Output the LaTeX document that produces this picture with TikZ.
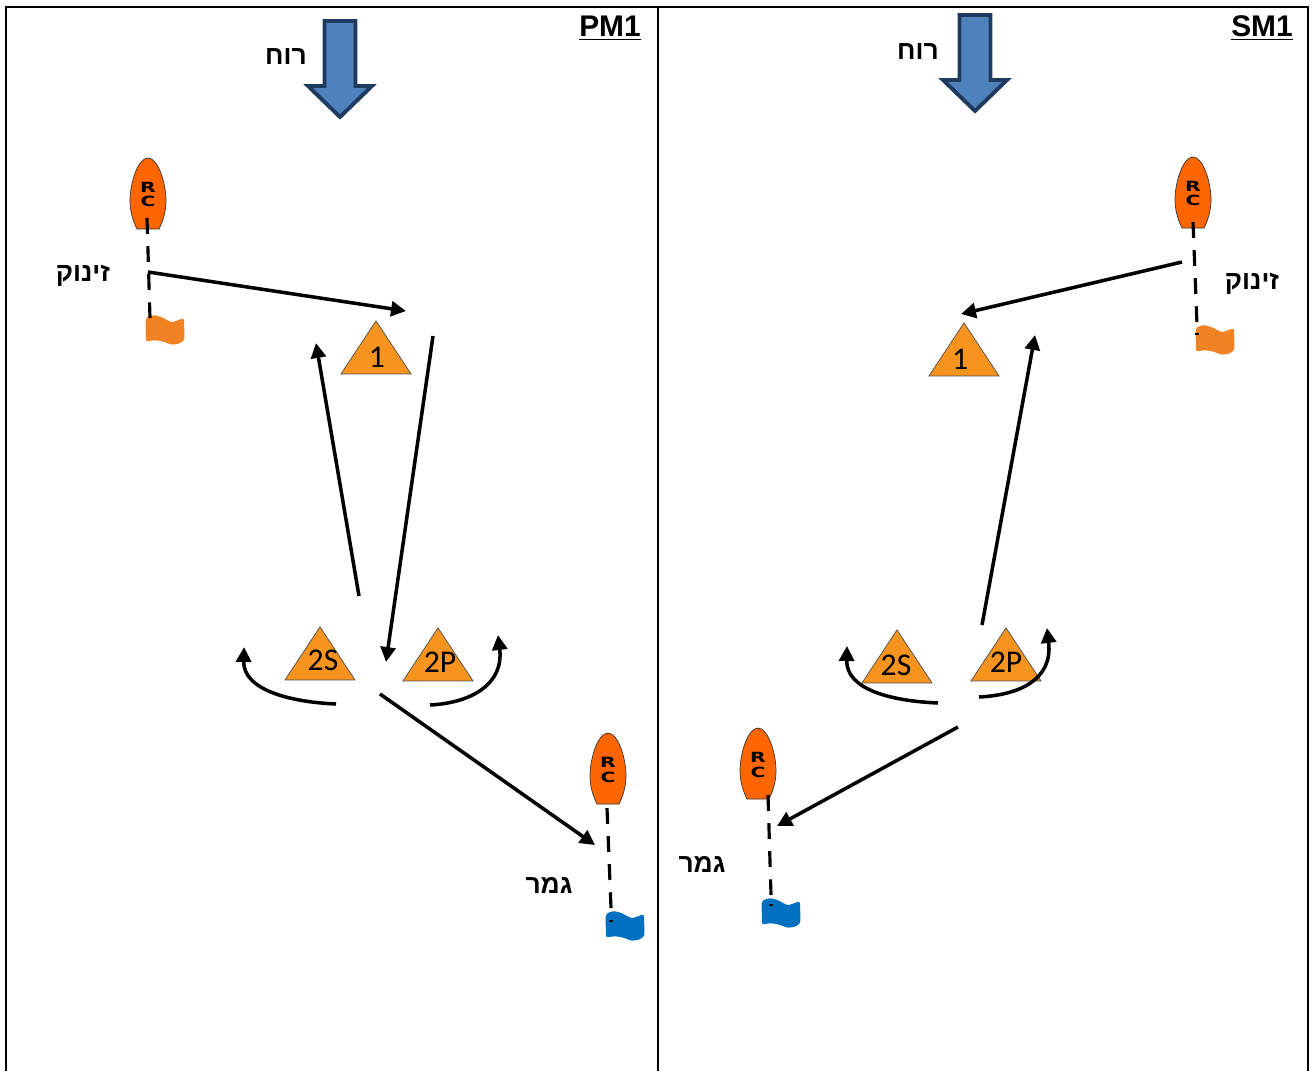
\documentclass[tikz,border=0pt]{standalone}
\usepackage{fontspec}
\setmainfont{Carlito}
\newfontfamily\hebfont[Script=Hebrew]{Liberation Sans}
\newfontfamily\arialfont{Liberation Sans}
\newfontfamily\rcfont{DejaVu Sans}
\TeXXeTstate=1
\usetikzlibrary{arrows.meta,shapes.geometric}
\definecolor{hullorange}{HTML}{FF6600}
\definecolor{flagorange}{HTML}{F08224}
\definecolor{flagblue}{HTML}{0070C0}
\definecolor{markorange}{HTML}{F79420}
\definecolor{windblue}{HTML}{4F81BD}
\definecolor{winddark}{HTML}{1F3A5F}
\tikzset{
  leg/.style={line width=2pt,-{Triangle[length=8.5pt,width=8.5pt]}},
  startline/.style={line width=1.8pt,dash pattern=on 9pt off 7pt},
  frameline/.style={line width=1.2pt},
  marktri/.style={draw=black!70,line width=0.4pt,fill=markorange,isosceles triangle,
    isosceles triangle stretches,shape border rotate=90,inner sep=0pt,
    minimum width=1.4cm,minimum height=1.06cm,anchor=apex},
  marklbl/.style={font=\fontsize{18pt}{18pt}\selectfont,inner sep=0pt},
  heblbl/.style={font=\hebfont\bfseries\fontsize{15pt}{15pt}\selectfont,inner sep=0pt},
  titlelbl/.style={font=\arialfont\bfseries\fontsize{17pt}{17pt}\selectfont,inner sep=0pt},
  rcboat/.pic={
    \filldraw[fill=hullorange,draw=black!80,line width=0.4pt] (0,0)
      .. controls (-10,0) and (-18,25) .. (-18,43)
      .. controls (-18,55) and (-14,65) .. (-11,71) -- (11,71)
      .. controls (14,65) and (18,55) .. (18,43)
      .. controls (18,25) and (10,0) .. (0,0) -- cycle;
    \path (0,36.5) node[inner sep=0pt,align=center,
      font=\rcfont\bfseries\fontsize{8pt}{8.5pt}\selectfont] (-rc)
      {\scalebox{1.45}[1]{R}\\\scalebox{1.45}[1]{C}};
  },
  wavyflag/.pic={
    \fill[pic actions,rounded corners=1.5pt] (0.5,3)
      .. controls (4,0) and (9,-1) .. (13,0)
      .. controls (20,2) and (25,7) .. (31,5)
      -- (39,2) -- (39.5,24)
      .. controls (33,29) and (27,29) .. (22,27)
      .. controls (14,24) and (7,24) .. (1,26) -- cycle;
  },
  windarrow/.pic={
    \filldraw[fill=windblue,draw=winddark,line width=2.2pt,miter limit=10]
      (-15.5,-99) -- (15.5,-99) -- (15.5,-34) -- (32,-34)
      -- (0,-3) -- (-32,-34) -- (-15.5,-34) -- cycle;
  }
}
\begin{document}
\begin{tikzpicture}[x=0.02cm,y=-0.02cm]
   \useasboundingbox (0,0) rectangle (1314,1071);

   % frame
   \draw[frameline] (6,1071) -- (6,7) -- (1308,7) -- (1308,1071);
   \draw[frameline] (658,7) -- (658,1071);
   \path (610,28) node[titlelbl] (Pt) {\underline{PM1}};
   \path (1262,28) node[titlelbl] (St) {\underline{SM1}};

   % wind
   \pic (Pw) at (340,120) {windarrow};
   \pic (Sw) at (975,114) {windarrow};
   \path (286,57) node[heblbl] (Pwn) {\beginR רוח\endR};
   \path (918,52) node[heblbl] (Swn) {\beginR רוח\endR};

   % left course
   \path (376,320) node[marktri] (P1) {};
   \path (377,357) node[marklbl] (P1n) {1};
   \path (320,626) node[marktri] (P2S) {};
   \path (323,660) node[marklbl] (P2Sn) {2S};
   \path (438,627) node[marktri] (P2P) {};
   \path (440,662) node[marklbl] (P2Pn) {2P};

   \pic (Pb) at (148,158) {rcboat};
   \pic[fill=flagorange] (Pf) at (145,316) {wavyflag};
   \pic (Pe) at (608,733) {rcboat};
   \pic[fill=flagblue] (Pg) at (605,912) {wavyflag};
   \path (83,276) node[heblbl] (Pbn) {\beginR זינוק\endR};
   \path (549,885) node[heblbl] (Pen) {\beginR גמר\endR};

   \coordinate (Pb0) at (147,218);
   \coordinate (Pb1) at (150,318);
   \coordinate (Pe0) at (607,808);
   \coordinate (Pe1) at (611,908);
   \draw[startline] (Pb0) -- (Pb1);
   \draw[startline] (Pe0) -- (Pe1);
   \path (611,921) node[fill=black,inner sep=0pt,minimum width=2.5pt,minimum height=1pt] (Pgd) {};

   \coordinate (a0) at (148,272);
   \coordinate (a1) at (406,311);
   \coordinate (b0) at (433,336);
   \coordinate (b1) at (386,662);
   \coordinate (c0) at (359,596);
   \coordinate (c1) at (316,343);
   \coordinate (d0) at (336,704);
   \coordinate (d1) at (244,647);
   \coordinate (e0) at (430,705);
   \coordinate (e1) at (498,635);
   \coordinate (f0) at (380,694);
   \coordinate (f1) at (595,845);
   \draw[leg] (a0) -- (a1);
   \draw[leg] (b0) -- (b1);
   \draw[leg] (c0) -- (c1);
   \draw[leg] (d0) .. controls (290,702) and (243,690) .. (d1);
   \draw[leg] (e0) .. controls (470,703) and (504,685) .. (e1);
   \draw[leg] (f0) -- (f1);

   % right course
   \path (964,322) node[marktri] (S1) {};
   \path (960,359) node[marklbl] (S1n) {1};
   \path (897,629) node[marktri] (S2S) {};
   \path (896,665) node[marklbl] (S2Sn) {2S};
   \path (1006,627) node[marktri] (S2P) {};
   \path (1006,662) node[marklbl] (S2Pn) {2P};

   \pic (Sb) at (1193,157) {rcboat};
   \pic[fill=flagorange] (Sf) at (1195,326) {wavyflag};
   \pic (Se) at (758,728) {rcboat};
   \pic[fill=flagblue] (Sg) at (761,899) {wavyflag};
   \path (1252,284) node[heblbl] (Sbn) {\beginR זינוק\endR};
   \path (702,864) node[heblbl] (Sen) {\beginR גמר\endR};

   \coordinate (Sb0) at (1193,222);
   \coordinate (Sb1) at (1197,325);
   \coordinate (Se0) at (768,795);
   \coordinate (Se1) at (771,895);
   \draw[startline] (Sb0) -- (Sb1);
   \draw[startline] (Se0) -- (Se1);
   \path (1197,334) node[fill=black,inner sep=0pt,minimum width=2.5pt,minimum height=1pt] (Sfd) {};
   \path (771,905) node[fill=black,inner sep=0pt,minimum width=2.5pt,minimum height=1pt] (Sgd) {};

   \coordinate (g0) at (1182,262);
   \coordinate (g1) at (961,314);
   \coordinate (h0) at (982,625);
   \coordinate (h1) at (1035,335);
   \coordinate (i0) at (938,703);
   \coordinate (i1) at (847,646);
   \coordinate (j0) at (979,697);
   \coordinate (j1) at (1047,628);
   \coordinate (k0) at (958,727);
   \coordinate (k1) at (777,826);
   \draw[leg] (g0) -- (g1);
   \draw[leg] (h0) -- (h1);
   \draw[leg] (i0) .. controls (892,701) and (846,690) .. (i1);
   \draw[leg] (j0) .. controls (1019,695) and (1053,680) .. (j1);
   \draw[leg] (k0) -- (k1);
\end{tikzpicture}
\end{document}
